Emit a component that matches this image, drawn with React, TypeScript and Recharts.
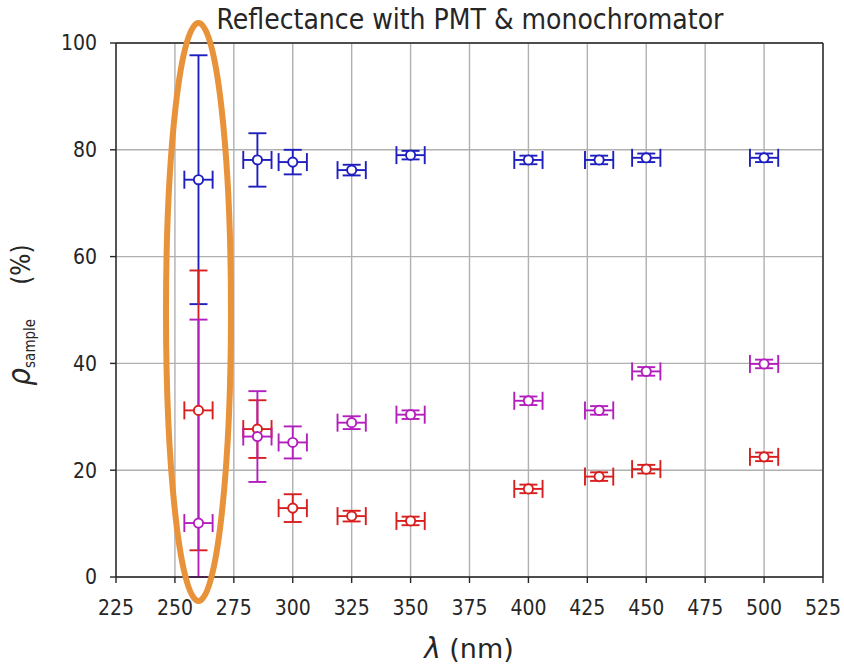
import {
  ScatterChart,
  Scatter,
  XAxis,
  YAxis,
  CartesianGrid,
  ErrorBar,
  ReferenceLine,
} from "recharts";

// ---------------------------------------------------------------------------
// Data
// ---------------------------------------------------------------------------

const wavelengths = [260, 285, 300, 325, 350, 400, 430, 450, 500];
const wavelengthErr = [6, 6, 6, 6, 6, 6, 6, 6, 6];

const blueVals = [74.4, 78.1, 77.7, 76.2, 79.0, 78.1, 78.1, 78.5, 78.5];
const blueErr = [23.3, 5.0, 2.3, 1.0, 0.8, 0.8, 0.8, 0.8, 0.8];

const redVals = [31.2, 27.7, 12.9, 11.4, 10.5, 16.5, 18.8, 20.2, 22.5];
const redErr = [26.2, 5.4, 2.6, 1.0, 0.8, 0.8, 0.8, 0.8, 0.8];

const magentaVals = [10.1, 26.3, 25.2, 28.9, 30.4, 33.0, 31.2, 38.5, 39.9];
// lower error of the 260 nm point runs off the bottom of the axes (cut at 0)
const magentaErrLow = [10.1, 8.5, 3.0, 1.2, 0.8, 0.8, 0.8, 0.8, 0.8];
const magentaErrHigh = [38.1, 8.5, 3.0, 1.2, 0.8, 0.8, 0.8, 0.8, 0.8];

const xTicks = [225, 250, 275, 300, 325, 350, 375, 400, 425, 450, 475, 500, 525];
const yTicks = [0, 20, 40, 60, 80, 100];

const title = "Reflectance with PMT & monochromator";

// ---------------------------------------------------------------------------
// Styles
// ---------------------------------------------------------------------------

const FONT = "'DejaVu Sans', sans-serif";
const FONT_C = "'DejaVu Sans Condensed', 'DejaVu Sans', sans-serif";
const TEXT = "#262626";
const BLUE = "#1f1fbf";
const RED = "#d81f1f";
const MAGENTA = "#b31fbd";

const W = 844;
const H = 665;

function toPoints(vals: number[], errs: any[]) {
  return wavelengths.map((wl, i) => ({
    wl,
    v: vals[i],
    ex: wavelengthErr[i],
    ey: errs[i],
  }));
}

const blueData = toPoints(blueVals, blueErr);
const redData = toPoints(redVals, redErr);
const magentaData = toPoints(
  magentaVals,
  magentaErrLow.map((lo, i) => [lo, magentaErrHigh[i]])
);

function openCircle(color: string) {
  return (props: any) => (
    <circle
      cx={props.cx}
      cy={props.cy}
      r={4.6}
      fill="#ffffff"
      stroke={color}
      strokeWidth={1.9}
    />
  );
}

function YLabel() {
  return (
    <text
      x={30}
      y={315}
      transform="rotate(-90 30 315)"
      textAnchor="middle"
      fill={TEXT}
      fontFamily={FONT_C}
    >
      <tspan fontSize={31} fontStyle="italic">
        ρ
      </tspan>
      <tspan fontSize={15} dy={5}>
        sample
      </tspan>
      <tspan fontSize={26} dy={-5} dx={34}>
        (%)
      </tspan>
    </text>
  );
}

function XLabel() {
  return (
    <text x={469} y={658} textAnchor="middle" fill={TEXT} fontFamily={FONT}>
      <tspan fontSize={28} fontStyle="italic">
        λ
      </tspan>
      <tspan fontSize={27}>{" (nm)"}</tspan>
    </text>
  );
}

function renderSeries(data: any[], color: string, name: string) {
  return (
    <Scatter
      name={name}
      data={data}
      dataKey="v"
      isAnimationActive={false}
      shape={openCircle(color)}
    >
      <ErrorBar
        dataKey="ey"
        direction="y"
        width={9}
        stroke={color}
        strokeWidth={1.9}
        isAnimationActive={false}
      />
      <ErrorBar
        dataKey="ex"
        direction="x"
        width={9}
        stroke={color}
        strokeWidth={1.9}
        isAnimationActive={false}
      />
    </Scatter>
  );
}

export default function App() {
  return (
    <div
      style={{
        position: "absolute",
        left: 0,
        top: 0,
        width: W,
        height: H,
        background: "#ffffff",
        fontFamily: FONT,
      }}
    >
      <ScatterChart
        width={W}
        height={H}
        margin={{ top: 43, right: 21, bottom: 0, left: 0 }}
      >
        <text
          x={470}
          y={29}
          textAnchor="middle"
          fontSize={28}
          fill={TEXT}
          fontFamily={FONT_C}
        >
          {title}
        </text>
        <CartesianGrid stroke="#b0b0b0" strokeWidth={1.4} />
        <XAxis
          type="number"
          dataKey="wl"
          domain={[225, 525]}
          ticks={xTicks}
          allowDataOverflow
          height={88}
          stroke="#262626"
          strokeWidth={1.4}
          tickSize={6}
          tickMargin={17}
          tick={{ fontSize: 21, fill: TEXT, fontFamily: FONT_C }}
          label={<XLabel />}
        />
        <YAxis
          type="number"
          dataKey="v"
          domain={[0, 100]}
          ticks={yTicks}
          allowDataOverflow
          width={116}
          stroke="#262626"
          strokeWidth={1.4}
          tickSize={6}
          tickMargin={13}
          tick={{ fontSize: 21, fill: TEXT, fontFamily: FONT_C }}
          label={<YLabel />}
        />
        <ReferenceLine y={100} stroke="#262626" strokeWidth={1.4} />
        <ReferenceLine x={525} stroke="#262626" strokeWidth={1.4} />
        {renderSeries(blueData, BLUE, "blue")}
        {renderSeries(redData, RED, "red")}
        {renderSeries(magentaData, MAGENTA, "magenta")}
      </ScatterChart>
      <svg
        width={W}
        height={H}
        style={{ position: "absolute", left: 0, top: 0, pointerEvents: "none" }}
      >
        <ellipse
          cx={198.5}
          cy={312}
          rx={32.5}
          ry={289}
          fill="none"
          stroke="#e8923a"
          strokeWidth={6}
        />
      </svg>
    </div>
  );
}
